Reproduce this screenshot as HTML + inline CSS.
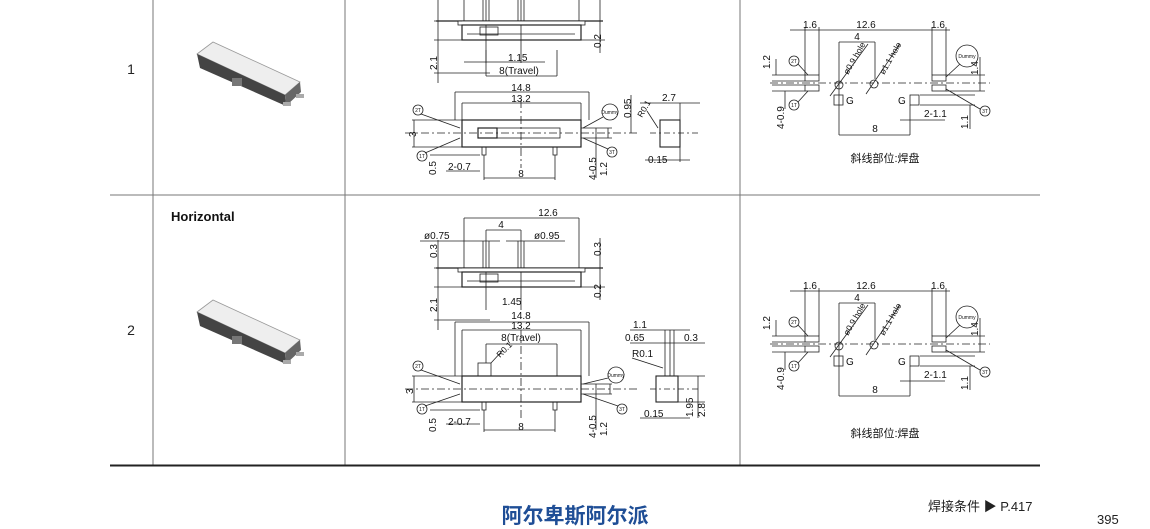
<!DOCTYPE html>
<html><head><meta charset="utf-8">
<style>
html,body{margin:0;padding:0;background:#fff;}
svg{display:block;font-family:"Liberation Sans","Noto Sans CJK SC",sans-serif;}
</style></head><body>
<svg width="1150" height="529" viewBox="0 0 1150 529" xmlns="http://www.w3.org/2000/svg">
<defs>
<g id="prod">
  <polygon points="197,312 213,300 300,340 285,353" fill="#eee" stroke="#999" stroke-width="0.8"/>
  <polygon points="197,312 285,353 286,364 200,326" fill="#444"/>
  <polygon points="285,353 300,340 301,350 286,364" fill="#666"/>
  <rect x="232" y="336" width="10" height="8" fill="#777"/>
  <rect x="283" y="360" width="8" height="4" fill="#aaa"/>
  <rect x="296" y="352" width="8" height="4" fill="#aaa"/>
</g>
<g id="topv" stroke="#222" fill="none" stroke-width="0.8">
  <line x1="464" y1="218" x2="579" y2="218"/>
  <line x1="464" y1="218" x2="464" y2="268"/><line x1="579" y1="218" x2="579" y2="268"/>
  <line x1="486" y1="230" x2="521" y2="230"/>
  <line x1="486" y1="230" x2="486" y2="310"/><line x1="521" y1="230" x2="521" y2="310"/>
  <line x1="420" y1="241" x2="500" y2="241"/><line x1="506" y1="241" x2="565" y2="241"/>
  <line x1="483" y1="241" x2="483" y2="268"/><line x1="489" y1="241" x2="489" y2="268"/>
  <line x1="518" y1="241" x2="518" y2="268"/><line x1="524" y1="241" x2="524" y2="268"/>
  <line x1="436" y1="268" x2="603" y2="268" stroke-width="1.2"/>
  <rect x="458" y="268" width="127" height="4" fill="#fff"/>
  <rect x="462" y="272" width="119" height="15" stroke-width="1.2"/>
  <rect x="480" y="274" width="18" height="8"/>
  <line x1="467" y1="281" x2="575" y2="281"/>
  <line x1="434" y1="268" x2="462" y2="268"/><line x1="434" y1="287" x2="462" y2="287"/>
  <line x1="434" y1="320" x2="490" y2="320"/>
  <line x1="438" y1="240" x2="438" y2="330"/>
  <line x1="581" y1="287" x2="605" y2="287"/><line x1="600" y1="238" x2="600" y2="300"/>
</g>
<g id="fp" stroke="#222" fill="none" stroke-width="0.8">
  <line x1="790" y1="291" x2="950" y2="291"/>
  <line x1="805" y1="288" x2="805" y2="336"/><line x1="819" y1="288" x2="819" y2="336"/>
  <line x1="932" y1="288" x2="932" y2="336"/><line x1="946" y1="288" x2="946" y2="336"/>
  <line x1="839" y1="303" x2="875" y2="303"/>
  <line x1="839" y1="303" x2="839" y2="396"/><line x1="875" y1="303" x2="875" y2="340"/>
  <rect x="805" y="336" width="14" height="6"/><rect x="805" y="346" width="14" height="6"/>
  <rect x="932" y="336" width="14" height="6"/><rect x="932" y="346" width="14" height="6"/>
  <line x1="770" y1="344" x2="990" y2="344" stroke-dasharray="8,3,2,3"/>
  <circle cx="839" cy="346" r="4"/><circle cx="874" cy="345" r="4"/>
  <line x1="830" y1="357" x2="868" y2="305"/><line x1="866" y1="355" x2="900" y2="305"/>
  <rect x="834" y="356" width="9" height="10"/><rect x="910" y="356" width="9" height="10"/>
  <line x1="839" y1="396" x2="910" y2="396"/><line x1="910" y1="366" x2="910" y2="396"/>
  <line x1="900" y1="381" x2="945" y2="381"/>
  <line x1="772" y1="336" x2="805" y2="336"/><line x1="772" y1="342" x2="805" y2="342"/>
  <line x1="772" y1="346" x2="805" y2="346"/><line x1="772" y1="352" x2="805" y2="352"/>
  <line x1="776" y1="320" x2="776" y2="336"/><line x1="785" y1="352" x2="785" y2="370"/>
  <line x1="946" y1="336" x2="985" y2="336"/><line x1="946" y1="352" x2="985" y2="352"/>
  <line x1="920" y1="356" x2="975" y2="356"/><line x1="920" y1="366" x2="975" y2="366"/>
  <line x1="980" y1="318" x2="980" y2="352"/><line x1="970" y1="366" x2="970" y2="390"/>
  <circle cx="794" cy="322" r="5"/><circle cx="794" cy="366" r="5"/>
  <circle cx="967" cy="317" r="11"/><circle cx="985" cy="372" r="5"/>
  <line x1="798" y1="325" x2="808" y2="336"/><line x1="798" y1="363" x2="808" y2="352"/>
  <line x1="960" y1="325" x2="946" y2="338"/><line x1="980" y1="370" x2="946" y2="350"/>
</g>
<g id="fpt" font-size="10" fill="#111">
  <text x="810" y="289" text-anchor="middle">1.6</text>
  <text x="866" y="289" text-anchor="middle">12.6</text>
  <text x="938" y="289" text-anchor="middle">1.6</text>
  <text x="857" y="301" text-anchor="middle">4</text>
  <text x="875" y="393" text-anchor="middle">8</text>
  <text x="924" y="378">2-1.1</text>
  <text x="846" y="365">G</text><text x="898" y="365">G</text>
  <text transform="translate(848,336) rotate(-60)" font-size="8.5">ø0.9 hole</text>
  <text transform="translate(884,336) rotate(-60)" font-size="8.5">ø1.1 hole</text>
  <text transform="translate(770,330) rotate(-90)">1.2</text>
  <text transform="translate(784,390) rotate(-90)">4-0.9</text>
  <text transform="translate(978,336) rotate(-90)">1.4</text>
  <text transform="translate(968,390) rotate(-90)">1.1</text>
  <text x="794" y="324" font-size="5" text-anchor="middle">2T</text>
  <text x="794" y="368" font-size="5" text-anchor="middle">1T</text>
  <text x="967" y="319" font-size="5" text-anchor="middle">Dummy</text>
  <text x="985" y="374" font-size="5" text-anchor="middle">3T</text>
</g>
</defs>

<!-- table lines -->
<g stroke="#777" stroke-width="1">
  <line x1="153" y1="0" x2="153" y2="466"/>
  <line x1="345" y1="0" x2="345" y2="466"/>
  <line x1="740" y1="0" x2="740" y2="466"/>
  <line x1="110" y1="195" x2="1040" y2="195"/>
</g>
<line x1="110" y1="465.5" x2="1040" y2="465.5" stroke="#222" stroke-width="2"/>

<text x="131" y="74" font-size="14" text-anchor="middle" fill="#222">1</text>
<text x="131" y="335" font-size="14" text-anchor="middle" fill="#222">2</text>
<text x="171" y="221" font-size="13" font-weight="bold" fill="#111">Horizontal</text>

<use href="#prod"/>
<use href="#prod" transform="translate(0,-258)"/>

<use href="#topv"/>
<use href="#topv" transform="translate(0,-247)"/>

<!-- row 2 bottom + side view -->
<g stroke="#222" fill="none" stroke-width="0.8">
  <line x1="455" y1="322" x2="589" y2="322"/>
  <line x1="455" y1="322" x2="455" y2="376"/><line x1="589" y1="322" x2="589" y2="376"/>
  <line x1="462" y1="330" x2="581" y2="330"/>
  <line x1="462" y1="330" x2="462" y2="376"/><line x1="581" y1="330" x2="581" y2="376"/>
  <line x1="486" y1="344" x2="557" y2="344"/>
  <line x1="486" y1="344" x2="486" y2="363"/><line x1="557" y1="344" x2="557" y2="376"/>
  <rect x="462" y="376" width="119" height="26" stroke-width="1.2"/>
  <rect x="478" y="363" width="13" height="13"/>
  <line x1="405" y1="389" x2="640" y2="389" stroke-dasharray="8,3,2,3"/>
  <line x1="521" y1="330" x2="521" y2="420" stroke-dasharray="8,3,2,3"/>
  <rect x="482" y="402" width="4" height="8"/><rect x="553" y="402" width="4" height="8"/>
  <line x1="484" y1="410" x2="484" y2="432"/><line x1="555" y1="410" x2="555" y2="432"/>
  <line x1="484" y1="430" x2="555" y2="430"/>
  <line x1="412" y1="376" x2="462" y2="376"/><line x1="412" y1="402" x2="462" y2="402"/>
  <line x1="414" y1="376" x2="414" y2="402"/>
  <line x1="430" y1="410" x2="480" y2="410"/><line x1="446" y1="424" x2="480" y2="424"/>
  <line x1="581" y1="384" x2="612" y2="384"/><line x1="581" y1="394" x2="612" y2="394"/>
  <line x1="596" y1="384" x2="596" y2="430"/><line x1="610" y1="384" x2="610" y2="394"/>
  <circle cx="418" cy="366" r="5"/><circle cx="422" cy="409" r="5"/>
  <circle cx="616" cy="375" r="8"/><circle cx="622" cy="409" r="5"/>
  <line x1="421" y1="370" x2="460" y2="384"/><line x1="425" y1="406" x2="460" y2="394"/>
  <line x1="608" y1="378" x2="583" y2="384"/><line x1="618" y1="406" x2="583" y2="394"/>
  <line x1="491" y1="363" x2="503" y2="350"/>
  <rect x="656" y="376" width="22" height="26" stroke-width="1.1"/>
  <line x1="650" y1="389" x2="700" y2="389" stroke-dasharray="6,3,2,3"/>
  <line x1="665" y1="330" x2="665" y2="376"/><line x1="670" y1="330" x2="670" y2="376"/><line x1="674" y1="330" x2="674" y2="376"/>
  <line x1="630" y1="330" x2="690" y2="330"/><line x1="630" y1="343" x2="705" y2="343"/>
  <line x1="632" y1="358" x2="663" y2="368"/>
  <line x1="640" y1="418" x2="690" y2="418"/>
  <line x1="678" y1="376" x2="705" y2="376"/><line x1="678" y1="402" x2="705" y2="402"/>
  <line x1="698" y1="376" x2="698" y2="418"/>
</g>

<!-- row 1 bottom + side view -->
<g stroke="#222" fill="none" stroke-width="0.8">
  <line x1="455" y1="92" x2="589" y2="92"/>
  <line x1="455" y1="92" x2="455" y2="120"/><line x1="589" y1="92" x2="589" y2="120"/>
  <line x1="462" y1="103" x2="581" y2="103"/>
  <line x1="462" y1="103" x2="462" y2="120"/><line x1="581" y1="103" x2="581" y2="120"/>
  <line x1="486" y1="50" x2="486" y2="76"/><line x1="557" y1="50" x2="557" y2="76"/>
  <line x1="486" y1="76" x2="557" y2="76"/>
  <line x1="464" y1="62" x2="545" y2="62"/>
  <rect x="462" y="120" width="119" height="27" stroke-width="1.2"/>
  <rect x="478" y="128" width="82" height="10"/>
  <rect x="478" y="128" width="19" height="10" stroke-width="1.2"/>
  <line x1="405" y1="133" x2="640" y2="133" stroke-dasharray="8,3,2,3"/>
  <line x1="521" y1="100" x2="521" y2="168" stroke-dasharray="8,3,2,3"/>
  <rect x="482" y="147" width="4" height="8"/><rect x="553" y="147" width="4" height="8"/>
  <line x1="484" y1="155" x2="484" y2="180"/><line x1="555" y1="155" x2="555" y2="180"/>
  <line x1="484" y1="178" x2="555" y2="178"/>
  <line x1="412" y1="120" x2="462" y2="120"/><line x1="412" y1="147" x2="462" y2="147"/>
  <line x1="414" y1="120" x2="414" y2="147"/>
  <line x1="430" y1="155" x2="480" y2="155"/><line x1="446" y1="171" x2="480" y2="171"/>
  <line x1="581" y1="128" x2="612" y2="128"/><line x1="581" y1="138" x2="612" y2="138"/>
  <line x1="596" y1="128" x2="596" y2="178"/><line x1="608" y1="128" x2="608" y2="138"/>
  <circle cx="418" cy="110" r="5"/><circle cx="422" cy="156" r="5"/>
  <circle cx="610" cy="112" r="8"/><circle cx="612" cy="152" r="5"/>
  <line x1="421" y1="114" x2="460" y2="128"/><line x1="425" y1="153" x2="460" y2="138"/>
  <line x1="603" y1="117" x2="583" y2="128"/><line x1="608" y1="149" x2="583" y2="138"/>
  <rect x="660" y="120" width="20" height="27" stroke-width="1.1"/>
  <line x1="650" y1="133" x2="700" y2="133" stroke-dasharray="6,3,2,3"/>
  <line x1="631" y1="95" x2="631" y2="133"/><line x1="640" y1="103" x2="700" y2="103"/>
  <line x1="680" y1="103" x2="680" y2="120"/>
  <line x1="647" y1="111" x2="658" y2="128"/>
  <line x1="645" y1="160" x2="690" y2="160"/><line x1="680" y1="147" x2="680" y2="162"/>
</g>

<g font-size="10" fill="#111">
  <text x="521" y="319" text-anchor="middle">14.8</text>
  <text x="521" y="329" text-anchor="middle">13.2</text>
  <text x="521" y="341" text-anchor="middle">8(Travel)</text>
  <text x="448" y="425">2-0.7</text>
  <text x="521" y="430" text-anchor="middle">8</text>
  <text transform="translate(413,394) rotate(-90)">3</text>
  <text transform="translate(436,432) rotate(-90)">0.5</text>
  <text transform="translate(596,438) rotate(-90)">4-0.5</text>
  <text transform="translate(607,436) rotate(-90)">1.2</text>
  <text transform="translate(500,358) rotate(-45)" font-size="8.5">R0.1</text>
  <text x="633" y="328">1.1</text><text x="625" y="341">0.65</text><text x="684" y="341">0.3</text>
  <text x="632" y="357">R0.1</text><text x="644" y="417">0.15</text>
  <text transform="translate(693,417) rotate(-90)">1.95</text>
  <text transform="translate(705,417) rotate(-90)">2.8</text>
  <text x="548" y="216" text-anchor="middle">12.6</text>
  <text x="501" y="228" text-anchor="middle">4</text>
  <text x="424" y="239">ø0.75</text><text x="534" y="239">ø0.95</text>
  <text transform="translate(437,258) rotate(-90)">0.3</text>
  <text transform="translate(601,256) rotate(-90)">0.3</text>
  <text transform="translate(437,312) rotate(-90)">2.1</text>
  <text transform="translate(601,298) rotate(-90)">0.2</text>
  <text x="502" y="305">1.45</text>
  <text x="418" y="368" font-size="5" text-anchor="middle">2T</text>
  <text x="422" y="411" font-size="5" text-anchor="middle">1T</text>
  <text x="616" y="377" font-size="5" text-anchor="middle">Dummy</text>
  <text x="622" y="411" font-size="5" text-anchor="middle">3T</text>
</g>
<!-- row 1 drawing labels -->
<g font-size="10" fill="#111">
  <text x="521" y="91" text-anchor="middle">14.8</text>
  <text x="521" y="102" text-anchor="middle">13.2</text>
  <text x="448" y="170">2-0.7</text>
  <text x="521" y="177" text-anchor="middle">8</text>
  <text x="508" y="61">1.15</text>
  <text x="519" y="74" text-anchor="middle">8(Travel)</text>
  <text transform="translate(416,137) rotate(-90)">3</text>
  <text transform="translate(436,175) rotate(-90)">0.5</text>
  <text transform="translate(596,180) rotate(-90)">4-0.5</text>
  <text transform="translate(607,176) rotate(-90)">1.2</text>
  <text transform="translate(437,70) rotate(-90)">2.1</text>
  <text transform="translate(601,48) rotate(-90)">0.2</text>
  <text transform="translate(631,118) rotate(-90)">0.95</text>
  <text x="662" y="101">2.7</text>
  <text transform="translate(642,118) rotate(-60)" font-size="8.5">R0.1</text>
  <text x="648" y="163">0.15</text>
  <text x="418" y="112" font-size="5" text-anchor="middle">2T</text>
  <text x="422" y="158" font-size="5" text-anchor="middle">1T</text>
  <text x="610" y="114" font-size="5" text-anchor="middle">Dummy</text>
  <text x="612" y="154" font-size="5" text-anchor="middle">3T</text>
</g>

<use href="#fp"/><use href="#fpt"/>
<use href="#fp" transform="translate(0,-261)"/><use href="#fpt" transform="translate(0,-261)"/>
<text x="885" y="437" font-size="11" text-anchor="middle" fill="#111">斜线部位:焊盘</text>
<text x="885" y="162" font-size="11" text-anchor="middle" fill="#111">斜线部位:焊盘</text>

<!-- footer -->
<text x="575" y="523" font-size="21" font-weight="bold" fill="#1f4e96" text-anchor="middle">阿尔卑斯阿尔派</text>
<text x="928" y="511" font-size="13" fill="#222">焊接条件 ▶ P.417</text>
<text x="1097" y="524" font-size="13" fill="#222">395</text>
</svg>
</body></html>
